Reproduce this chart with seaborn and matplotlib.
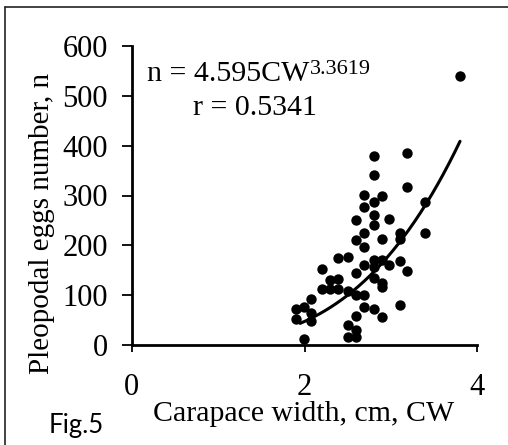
import numpy as np
import pandas as pd
import matplotlib
matplotlib.use("Agg")
import matplotlib.pyplot as plt
from matplotlib.lines import Line2D
import seaborn as sns

# ---- data ----
cw = [3.80, 2.80, 3.19, 2.80, 3.19, 2.69, 2.90, 2.80, 2.69, 2.80, 3.40, 2.60,
      2.98, 2.80, 2.69, 3.10, 3.40, 2.60, 2.90, 3.10, 2.69, 2.39, 2.50, 2.80,
      2.90, 2.69, 2.98, 3.10, 3.19, 2.20, 2.60, 2.80, 2.29, 2.39, 2.20, 2.29,
      2.39, 2.50, 2.80, 2.90, 2.90, 2.60, 2.69, 2.08, 1.90, 1.99, 2.08, 1.90,
      2.08, 3.10, 2.69, 2.80, 2.60, 2.90, 2.50, 2.60, 2.50, 2.60, 1.99]
eggs = [540, 380, 386, 342, 318, 301, 299, 286, 277, 261, 286, 250,
        253, 241, 225, 225, 225, 210, 213, 213, 196, 174, 177, 171,
        171, 160, 161, 169, 149, 153, 145, 157, 131, 133, 113, 113,
        113, 108, 135, 125, 116, 100, 100, 93, 73, 77, 64, 52,
        49, 81, 77, 72, 59, 56, 41, 31, 17, 17, 12]

# fitted power curve shown on the chart: n = a * CW^b
fit_a = 4.595
fit_b = 3.3619
fit_r = 0.5341
fit_range = [1.95, 3.80]

x_ticks = [0, 2, 4]
y_ticks = [0, 100, 200, 300, 400, 500, 600]

df = pd.DataFrame({"cw": cw, "n": eggs})
cx = np.linspace(fit_range[0], fit_range[1], 200)
curve = pd.DataFrame({"cw": cx, "n": fit_a * cx ** fit_b})

sns.set_theme(style="white")
plt.rcParams["font.family"] = ["Liberation Serif", "DejaVu Serif"]

fig = plt.figure(figsize=(5.08, 4.45), dpi=100)
ax = fig.add_axes([131.7 / 508, 100 / 445, 345.6 / 508, 299 / 445])

sns.scatterplot(data=df, x="cw", y="n", ax=ax, color="black", s=56,
                edgecolor="black", linewidth=0, zorder=3)
sns.lineplot(data=curve, x="cw", y="n", ax=ax, color="black", lw=2.2,
             zorder=2)

ax.set_xlim(0, 4)
ax.set_ylim(0, 600)
ax.set_xticks(x_ticks)
ax.set_yticks(y_ticks)
ax.set_xticklabels([str(v) for v in x_ticks])
ax.set_yticklabels([str(v) for v in y_ticks])

for s in ["top", "right"]:
    ax.spines[s].set_visible(False)
for s in ["left", "bottom"]:
    ax.spines[s].set_color("black")
    ax.spines[s].set_linewidth(2.0)

ax.tick_params(axis="y", direction="out", length=7, width=1.3, pad=10,
               labelsize=22, colors="black", left=True)
ax.tick_params(axis="x", direction="out", length=5, width=1.3, pad=15,
               labelsize=22, colors="black", bottom=True)

ax.set_xlabel("Carapace width, cm, CW", fontsize=21.5, color="black",
              va="center", ha="center")
ax.xaxis.set_label_coords(0.4986, -0.23)
ax.set_ylabel("Pleopodal eggs number, n", fontsize=21, color="black",
              va="center", ha="center")
ax.yaxis.set_label_coords(-0.26, 0.405)

eq = ax.text(0.18, 530, f"n = {fit_a}CW", fontsize=21.5,
             ha="left", va="baseline", color="black")
ax.annotate(f"{fit_b}", xy=(1, 0), xycoords=eq, xytext=(0.5, 9.5),
            textcoords="offset points", fontsize=16, ha="left",
            va="baseline", color="black")
ax.text(0.71, 462, f"r = {fit_r}", fontsize=21.5, ha="left", va="baseline",
        color="black")

fig.text(49 / 508, 1 - 433 / 445, "Fig.5", fontsize=18.5,
         family=["Lato", "DejaVu Sans"], ha="left", va="baseline",
         color="black")

# frame around the figure (left and top edges visible in reference)
fig.add_artist(Line2D([5 / 508, 5 / 508], [0, 1 - 7 / 445],
                      transform=fig.transFigure, color="#222222", lw=1.2))
fig.add_artist(Line2D([5 / 508, 1], [1 - 7 / 445, 1 - 7 / 445],
                      transform=fig.transFigure, color="#222222", lw=1.2))

fig.savefig("out.png", dpi=100)
